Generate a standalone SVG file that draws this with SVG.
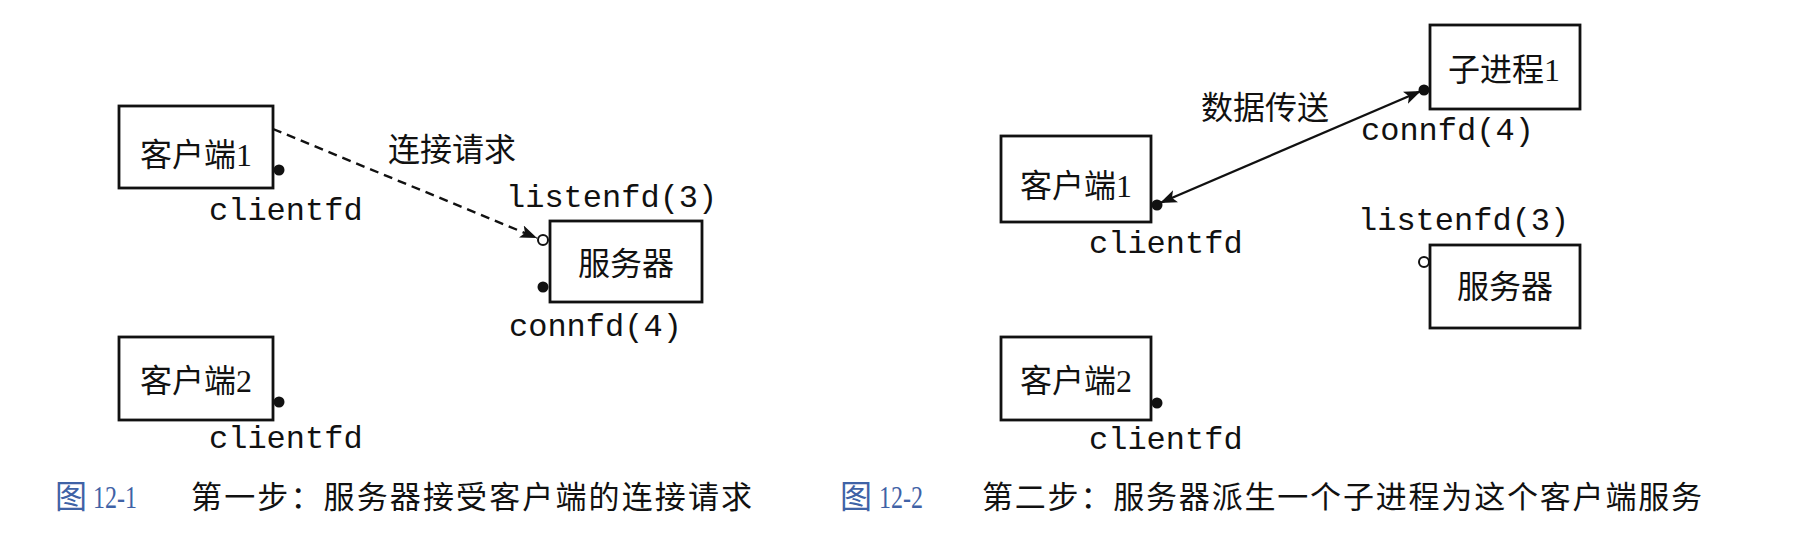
<svg xmlns="http://www.w3.org/2000/svg" width="1805" height="538" viewBox="0 0 1805 538">
<defs>
<style>
.box{fill:#fff;stroke:#111;stroke-width:2.8}
.zh{font-family:"Liberation Serif","Noto Sans CJK SC",serif;font-size:32px;fill:#111}
.mono{font-family:"Liberation Mono",monospace;font-size:32px;fill:#111}
.cap{font-family:"Liberation Serif","Noto Sans CJK SC",serif;font-size:31px;fill:#111}
.capn{font-family:"Liberation Serif","Noto Sans CJK SC",serif;font-size:32px;fill:#3f62a6}
.dot{fill:#111}
.odot{fill:#fff;stroke:#111;stroke-width:2}
.line{stroke:#111;stroke-width:2.4;fill:none}
</style>
<marker id="ah" markerUnits="userSpaceOnUse" markerWidth="20" markerHeight="14" refX="17" refY="6.5" orient="auto-start-reverse">
<path d="M0,0 L17,6.5 L0,13 L4,6.5 Z" fill="#111"/>
</marker>
</defs>
<rect width="1805" height="538" fill="#fff"/>

<g id="connectors">
<line class="line" x1="273" y1="129" x2="537" y2="238" stroke-dasharray="9,6" marker-end="url(#ah)"/>
<line class="line" x1="1160" y1="203" x2="1421" y2="91" marker-start="url(#ah)" marker-end="url(#ah)"/>
</g>

<g id="l-client1">
<rect class="box" x="119" y="106" width="154" height="82"/>
<text class="zh" x="196" y="166" text-anchor="middle">客户端1</text>
<circle class="dot" cx="279" cy="170" r="5.5"/>
<text class="mono" x="209" y="220">clientfd</text>
</g>
<g id="l-label">
<text class="zh" x="452" y="161" text-anchor="middle">连接请求</text>
</g>
<g id="l-server">
<text class="mono" x="506" y="207">listenfd(3)</text>
<rect class="box" x="550" y="221" width="152" height="81"/>
<text class="zh" x="626" y="275" text-anchor="middle">服务器</text>
<circle class="odot" cx="543" cy="240" r="5"/>
<circle class="dot" cx="543" cy="287" r="5.5"/>
<text class="mono" x="509" y="336">connfd(4)</text>
</g>
<g id="l-client2">
<rect class="box" x="119" y="337" width="154" height="83"/>
<text class="zh" x="196" y="392" text-anchor="middle">客户端2</text>
<circle class="dot" cx="279" cy="402" r="5.5"/>
<text class="mono" x="209" y="448">clientfd</text>
</g>
<g id="cap1">
<text class="capn" x="55" y="508" font-size="25">图</text>
<text class="capn" x="93" y="508" textLength="44" lengthAdjust="spacingAndGlyphs">12-1</text>
<text class="cap" x="191" y="508" textLength="561" lengthAdjust="spacing">第一步：服务器接受客户端的连接请求</text>
</g>

<g id="r-child">
<rect class="box" x="1430" y="25" width="150" height="84"/>
<text class="zh" x="1504" y="81" text-anchor="middle">子进程1</text>
<circle class="dot" cx="1424" cy="90" r="5.5"/>
<text class="mono" x="1361" y="140">connfd(4)</text>
</g>
<g id="r-label">
<text class="zh" x="1265" y="119" text-anchor="middle">数据传送</text>
</g>
<g id="r-client1">
<rect class="box" x="1001" y="136" width="150" height="86"/>
<text class="zh" x="1076" y="197" text-anchor="middle">客户端1</text>
<circle class="dot" cx="1157" cy="205" r="5.5"/>
<text class="mono" x="1089" y="253">clientfd</text>
</g>
<g id="r-server">
<text class="mono" x="1358" y="230">listenfd(3)</text>
<circle class="odot" cx="1424" cy="262" r="5"/>
<rect class="box" x="1430" y="245" width="150" height="83"/>
<text class="zh" x="1505" y="298" text-anchor="middle">服务器</text>
</g>
<g id="r-client2">
<rect class="box" x="1001" y="337" width="150" height="83"/>
<text class="zh" x="1076" y="392" text-anchor="middle">客户端2</text>
<circle class="dot" cx="1157" cy="403" r="5.5"/>
<text class="mono" x="1089" y="449">clientfd</text>
</g>
<g id="cap2">
<text class="capn" x="840" y="508" font-size="25">图</text>
<text class="capn" x="879" y="508" textLength="44" lengthAdjust="spacingAndGlyphs">12-2</text>
<text class="cap" x="982" y="508" textLength="720" lengthAdjust="spacing">第二步：服务器派生一个子进程为这个客户端服务</text>
</g>
</svg>
